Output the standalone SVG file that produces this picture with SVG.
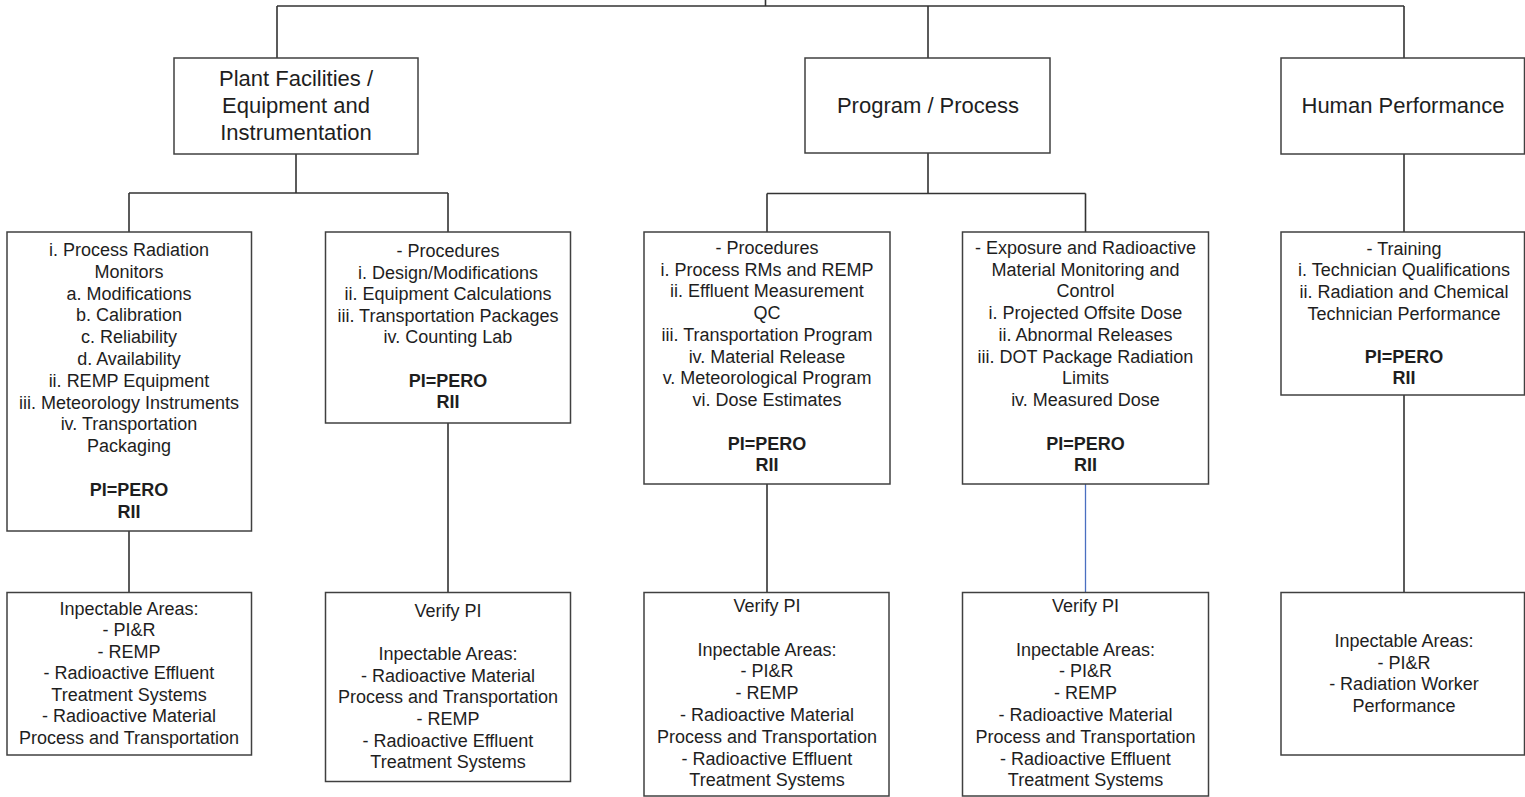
<svg xmlns="http://www.w3.org/2000/svg" width="1525" height="797" viewBox="0 0 1525 797">
<style>
.box{fill:#fff;stroke:#404040;stroke-width:1.5}
.ln{fill:none;stroke:#333;stroke-width:1.6}
.blue{fill:none;stroke:#4a6fc0;stroke-width:1.3}
text{font-family:"Liberation Sans",Arial,sans-serif;fill:#1e1e1e;text-anchor:middle}
.t1{font-size:22px}
.t2{font-size:18px}
.b{font-weight:bold}
</style>
<rect width="1525" height="797" fill="#fff"/>
<g id="connectors">
<path class="ln" d="M765.5 0V6M277 6H1404M277 6V58M928 6V58M1404 6V232"/>
<path class="ln" d="M296 154V193M129 193H448M129 193V232M448 193V232"/>
<path class="ln" d="M928 153V193.5M767 193.5H1085.5M767 193.5V232M1085.5 193.5V232"/>
<path class="ln" d="M129 531V592M448 423V592M767 484V592M1404 395V592"/>
<path class="blue" d="M1085.5 484V592"/>
</g>
<g id="plant">
<rect class="box" x="174" y="58" width="244" height="96"/>
<text class="t1"><tspan x="296" y="85.5">Plant Facilities /</tspan><tspan x="296" y="113">Equipment and</tspan><tspan x="296" y="140">Instrumentation</tspan></text>
</g>
<g id="program">
<rect class="box" x="805" y="58" width="245" height="95"/>
<text class="t1" x="928" y="113">Program / Process</text>
</g>
<g id="human">
<rect class="box" x="1281" y="58" width="243.5" height="96"/>
<text class="t1" x="1403" y="113">Human Performance</text>
</g>
<g id="equip">
<rect class="box" x="7" y="232" width="244.5" height="299"/>
<text class="t2"><tspan x="129" y="256">i. Process Radiation</tspan><tspan x="129" y="277.8">Monitors</tspan><tspan x="129" y="299.6">a. Modifications</tspan><tspan x="129" y="321.4">b. Calibration</tspan><tspan x="129" y="343.2">c. Reliability</tspan><tspan x="129" y="365">d. Availability</tspan><tspan x="129" y="386.8">ii. REMP Equipment</tspan><tspan x="129" y="408.6">iii. Meteorology Instruments</tspan><tspan x="129" y="430.4">iv. Transportation</tspan><tspan x="129" y="452.2">Packaging</tspan><tspan class="b" x="129" y="496">PI=PERO</tspan><tspan class="b" x="129" y="517.8">RII</tspan></text>
</g>
<g id="proc1">
<rect class="box" x="325.5" y="232" width="245" height="191"/>
<text class="t2"><tspan x="448" y="257">- Procedures</tspan><tspan x="448" y="278.6">i. Design/Modifications</tspan><tspan x="448" y="300.2">ii. Equipment Calculations</tspan><tspan x="448" y="321.8">iii. Transportation Packages</tspan><tspan x="448" y="343.4">iv. Counting Lab</tspan><tspan class="b" x="448" y="386.6">PI=PERO</tspan><tspan class="b" x="448" y="408.2">RII</tspan></text>
</g>
<g id="proc2">
<rect class="box" x="644" y="232" width="246" height="252"/>
<text class="t2"><tspan x="767" y="254">- Procedures</tspan><tspan x="767" y="275.7">i. Process RMs and REMP</tspan><tspan x="767" y="297.4">ii. Effluent Measurement</tspan><tspan x="767" y="319.1">QC</tspan><tspan x="767" y="340.8">iii. Transportation Program</tspan><tspan x="767" y="362.5">iv. Material Release</tspan><tspan x="767" y="384.2">v. Meteorological Program</tspan><tspan x="767" y="405.9">vi. Dose Estimates</tspan><tspan class="b" x="767" y="450">PI=PERO</tspan><tspan class="b" x="767" y="471">RII</tspan></text>
</g>
<g id="exposure">
<rect class="box" x="962.5" y="232" width="246" height="252"/>
<text class="t2"><tspan x="1085.5" y="254">- Exposure and Radioactive</tspan><tspan x="1085.5" y="275.7">Material Monitoring and</tspan><tspan x="1085.5" y="297.4">Control</tspan><tspan x="1085.5" y="319.1">i. Projected Offsite Dose</tspan><tspan x="1085.5" y="340.8">ii. Abnormal Releases</tspan><tspan x="1085.5" y="362.5">iii. DOT Package Radiation</tspan><tspan x="1085.5" y="384.2">Limits</tspan><tspan x="1085.5" y="405.9">iv. Measured Dose</tspan><tspan class="b" x="1085.5" y="450">PI=PERO</tspan><tspan class="b" x="1085.5" y="471">RII</tspan></text>
</g>
<g id="training">
<rect class="box" x="1281" y="232" width="243.5" height="163"/>
<text class="t2"><tspan x="1404" y="254.7">- Training</tspan><tspan x="1404" y="276.3">i. Technician Qualifications</tspan><tspan x="1404" y="297.9">ii. Radiation and Chemical</tspan><tspan x="1404" y="319.5">Technician Performance</tspan><tspan class="b" x="1404" y="362.7">PI=PERO</tspan><tspan class="b" x="1404" y="384.3">RII</tspan></text>
</g>
<g id="areas1">
<rect class="box" x="7" y="592.5" width="244.5" height="162.5"/>
<text class="t2"><tspan x="129" y="614.5">Inpectable Areas:</tspan><tspan x="129" y="636">- PI&amp;R</tspan><tspan x="129" y="657.5">- REMP</tspan><tspan x="129" y="679">- Radioactive Effluent</tspan><tspan x="129" y="700.5">Treatment Systems</tspan><tspan x="129" y="722">- Radioactive Material</tspan><tspan x="129" y="743.5">Process and Transportation</tspan></text>
</g>
<g id="areas2">
<rect class="box" x="325.5" y="592.5" width="245" height="189"/>
<text class="t2"><tspan x="448" y="617">Verify PI</tspan><tspan x="448" y="660.2">Inpectable Areas:</tspan><tspan x="448" y="681.8">- Radioactive Material</tspan><tspan x="448" y="703.4">Process and Transportation</tspan><tspan x="448" y="725">- REMP</tspan><tspan x="448" y="746.6">- Radioactive Effluent</tspan><tspan x="448" y="768.2">Treatment Systems</tspan></text>
</g>
<g id="areas3">
<rect class="box" x="644" y="592.5" width="245" height="203.5"/>
<text class="t2"><tspan x="767" y="612">Verify PI</tspan><tspan x="767" y="655.6">Inpectable Areas:</tspan><tspan x="767" y="677.4">- PI&amp;R</tspan><tspan x="767" y="699.2">- REMP</tspan><tspan x="767" y="721">- Radioactive Material</tspan><tspan x="767" y="742.8">Process and Transportation</tspan><tspan x="767" y="764.6">- Radioactive Effluent</tspan><tspan x="767" y="786.4">Treatment Systems</tspan></text>
</g>
<g id="areas4">
<rect class="box" x="962.5" y="592.5" width="246" height="203.5"/>
<text class="t2"><tspan x="1085.5" y="612">Verify PI</tspan><tspan x="1085.5" y="655.6">Inpectable Areas:</tspan><tspan x="1085.5" y="677.4">- PI&amp;R</tspan><tspan x="1085.5" y="699.2">- REMP</tspan><tspan x="1085.5" y="721">- Radioactive Material</tspan><tspan x="1085.5" y="742.8">Process and Transportation</tspan><tspan x="1085.5" y="764.6">- Radioactive Effluent</tspan><tspan x="1085.5" y="786.4">Treatment Systems</tspan></text>
</g>
<g id="areas5">
<rect class="box" x="1281" y="592.5" width="243.5" height="162.5"/>
<text class="t2"><tspan x="1404" y="647.4">Inpectable Areas:</tspan><tspan x="1404" y="669">- PI&amp;R</tspan><tspan x="1404" y="690.4">- Radiation Worker</tspan><tspan x="1404" y="712">Performance</tspan></text>
</g>
</svg>
